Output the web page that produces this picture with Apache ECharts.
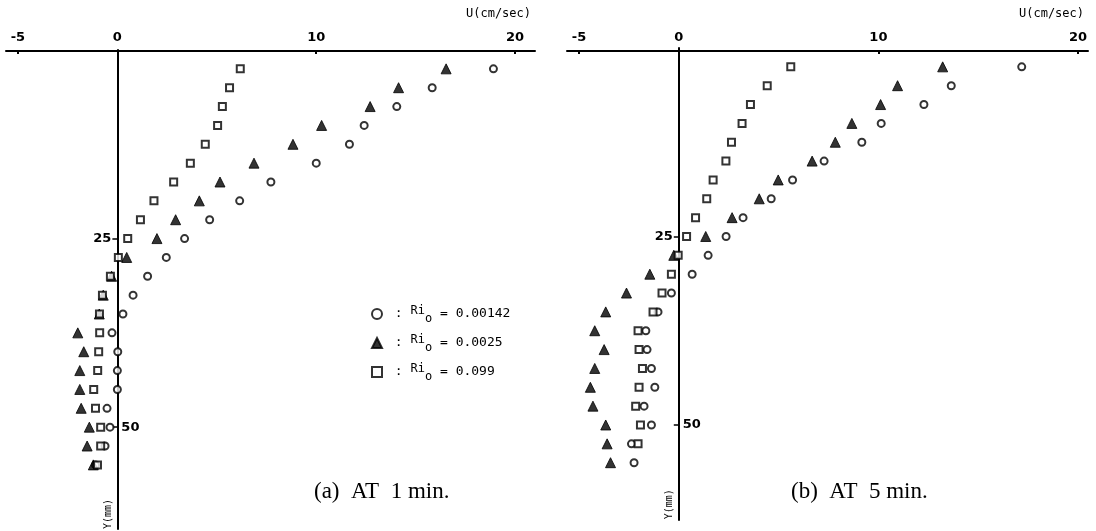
<!DOCTYPE html>
<html><head><meta charset="utf-8">
<script src="https://cdn.jsdelivr.net/npm/echarts@6/dist/echarts.min.js"></script>
<style>html,body{margin:0;padding:0;background:#fff}#c{width:1096px;height:531px}</style>
</head><body><div id="c"></div>
<script>
// Depth levels Y (mm), measured downward from the surface
const depthY = [2.5, 5, 7.5, 10, 12.5, 15, 17.5, 20, 22.5, 25, 27.5, 30, 32.5, 35, 37.5, 40, 42.5, 45, 47.5, 50, 52.5, 55];
const xTickValues = [-5, 0, 10, 20];
const yTickValues = [25, 50];
const seriesNames = ['Ri0 = 0.00142', 'Ri0 = 0.0025', 'Ri0 = 0.099'];
const seriesValueText = ['0.00142', '0.0025', '0.099'];

// (a) AT 1 min.  U (cm/sec)
const aCircle   = [18.91, 15.83, 14.05, 12.41, 11.67, 10.0, 7.72, 6.15, 4.64, 3.38, 2.46, 1.52, 0.79, 0.28, -0.27, 0.02, 0.0, 0.0, -0.52, -0.37, -0.62, -1.1];
const aTriangle = [16.53, 14.14, 12.71, 10.27, 8.83, 6.87, 5.16, 4.12, 2.93, 1.99, 0.47, -0.29, -0.71, -0.91, -1.99, -1.69, -1.89, -1.89, -1.82, -1.41, -1.52, -1.21];
const aSquare   = [6.18, 5.64, 5.28, 5.04, 4.42, 3.67, 2.83, 1.84, 1.16, 0.52, 0.05, -0.35, -0.75, -0.9, -0.89, -0.94, -0.99, -1.19, -1.1, -0.84, -0.84, -1.0];

// (b) AT 5 min.  U (cm/sec)
const bCircle   = [17.18, 13.65, 12.28, 10.14, 9.17, 7.28, 5.70, 4.63, 3.22, 2.37, 1.47, 0.67, -0.37, -1.04, -1.65, -1.59, -1.37, -1.20, -1.74, -1.37, -2.37, -2.24];
const bTriangle = [13.22, 10.96, 10.11, 8.67, 7.84, 6.68, 4.98, 4.03, 2.67, 1.35, -0.25, -1.45, -2.62, -3.66, -4.21, -3.74, -4.21, -4.43, -4.30, -3.66, -3.59, -3.42];
const bSquare   = [5.61, 4.43, 3.59, 3.17, 2.64, 2.36, 1.72, 1.40, 0.84, 0.39, -0.03, -0.37, -0.84, -1.29, -2.04, -1.99, -1.82, -1.99, -2.16, -1.92, -2.04];

const captions = ['(a)  AT  1 min.', '(b)  AT  5 min.'];
const xName = 'U(cm/sec)';
const yName = 'Y(mm)';

const pairs = arr => arr.map((u, i) => [u, depthY[i]]);
const markStyles = [
  { symbol: 'circle', symbolSize: 7, itemStyle: { color: '#fff', borderColor: '#000', borderWidth: 2 } },
  { symbol: 'triangle', symbolSize: 10, itemStyle: { color: '#000', borderColor: '#000', borderWidth: 1 } },
  { symbol: 'rect', symbolSize: 7, itemStyle: { color: '#fff', borderColor: '#000', borderWidth: 2 } }
];
const panels = [[aCircle, aTriangle, aSquare], [bCircle, bTriangle, bSquare]];
const series = [];
panels.forEach((p, gi) => {
  p.forEach((arr, si) => {
    series.push(Object.assign({
      type: 'scatter', name: seriesNames[si], xAxisIndex: gi, yAxisIndex: gi,
      data: pairs(arr), z: 3 + si, emphasis: { disabled: true }
    }, markStyles[si]));
  });
});

const xAxisCommon = {
  type: 'value', position: 'top',
  axisLine: { onZero: false, lineStyle: { color: '#000', width: 2 } },
  axisTick: { show: true, customValues: xTickValues, length: 3, inside: true, lineStyle: { color: '#000', width: 2 } },
  axisLabel: { customValues: xTickValues, color: '#000', fontWeight: 'bold', fontSize: 13, fontFamily: 'DejaVu Sans', margin: 7 },
  splitLine: { show: false }
};
const yAxisCommon = {
  type: 'value', inverse: true, min: 0,
  axisLine: { onZero: true, lineStyle: { color: '#000', width: 2 } },
  axisTick: { show: true, customValues: yTickValues, length: 5, lineStyle: { color: '#000', width: 1.5 } },
  axisLabel: { show: false },
  splitLine: { show: false }
};

const option = {
  backgroundColor: '#fff',
  animation: false,
  grid: [
    { left: 6, top: 50, width: 529, height: 479 },
    { left: 567, top: 48, width: 521, height: 472 }
  ],
  xAxis: [
    Object.assign({}, xAxisCommon, { gridIndex: 0, min: -5.6, max: 21, offset: -1 }),
    Object.assign({}, xAxisCommon, { gridIndex: 1, min: -5.6, max: 20.5, offset: -3 })
  ],
  yAxis: [
    Object.assign({}, yAxisCommon, { gridIndex: 0, max: 63.5 }),
    Object.assign({}, yAxisCommon, { gridIndex: 1, max: 62.6 })
  ],
  legend: {
    orient: 'vertical', left: 366, top: 299, itemWidth: 10, itemHeight: 10, itemGap: 8,
    selectedMode: false,
    data: seriesNames,
    formatter: n => '{t| : }{r|Ri}{s|o}{t| = ' + seriesValueText[seriesNames.indexOf(n)] + '}',
    textStyle: {
      color: '#000', fontFamily: 'DejaVu Sans Mono', fontSize: 13, lineHeight: 20,
      rich: {
        t: { fontFamily: 'DejaVu Sans Mono', fontSize: 13, color: '#000' },
        r: { fontFamily: 'DejaVu Sans Mono', fontSize: 12, color: '#000', padding: [0, 0, 7, 0] },
        s: { fontFamily: 'DejaVu Sans Mono', fontSize: 12, color: '#000', padding: [10, 0, 0, 0] }
      }
    }
  },
  title: [
    { text: captions[0], left: 309, top: 475, textStyle: { fontFamily: 'Liberation Serif', fontWeight: 'normal', fontSize: 23, color: '#000' } },
    { text: captions[1], left: 786, top: 475, textStyle: { fontFamily: 'Liberation Serif', fontWeight: 'normal', fontSize: 23, color: '#000' } }
  ],
  series: series
};

const chart = echarts.init(document.getElementById('c'), null, { renderer: 'canvas' });
chart.setOption(option);

// Text labels positioned through the axes' own scales
const g = [];
const tickFont = 'bold 13px "DejaVu Sans"';
[0, 1].forEach(gi => {
  const xMax = option.xAxis[gi].max;
  const p25 = chart.convertToPixel({ gridIndex: gi }, [0, yTickValues[0]]);
  const p50 = chart.convertToPixel({ gridIndex: gi }, [0, yTickValues[1]]);
  g.push({ type: 'text', x: p25[0] - 6, y: p25[1], style: { text: String(yTickValues[0]), font: tickFont, fill: '#000', align: 'right', verticalAlign: 'middle' } });
  g.push({ type: 'text', x: p50[0] + 4, y: p50[1], style: { text: String(yTickValues[1]), font: tickFont, fill: '#000', align: 'left', verticalAlign: 'middle' } });
  const pEnd = chart.convertToPixel({ gridIndex: gi }, [xMax, 0]);
  g.push({ type: 'text', x: pEnd[0] - 4, y: 14, style: { text: xName, font: '12px "DejaVu Sans Mono"', fill: '#000', align: 'right', verticalAlign: 'middle' } });
  const pY = chart.convertToPixel({ gridIndex: gi }, [0, gi === 0 ? 61.5 : 60.5]);
  g.push({ type: 'text', x: pY[0] - 9, y: pY[1], rotation: Math.PI / 2, style: { text: yName, font: '10px "DejaVu Sans Mono"', fill: '#000', align: 'center', verticalAlign: 'middle' } });
});
chart.setOption({ graphic: g });
</script>
</body></html>
